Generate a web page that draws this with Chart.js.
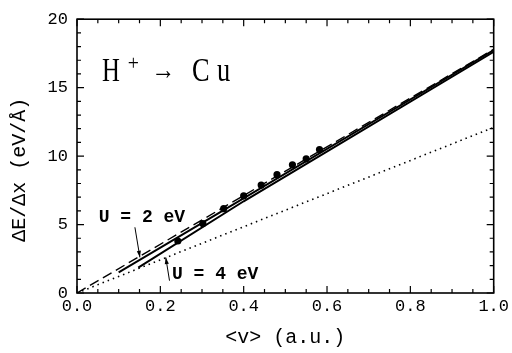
<!DOCTYPE html>
<html>
<head>
<meta charset="utf-8">
<script src="https://cdn.jsdelivr.net/npm/chart.js@4.4.0/dist/chart.umd.min.js"></script>
<style>
html, body { margin: 0; padding: 0; background: #fff; }
canvas { display: block; }
</style>
</head>
<body>
<canvas id="c" width="512" height="353"></canvas>
<script>
// measured stopping powers (dots)
const expX = [0.242, 0.302, 0.352, 0.400, 0.442, 0.480, 0.517, 0.550, 0.582];
const expY = [3.80, 5.07, 6.16, 7.09, 7.88, 8.64, 9.36, 9.80, 10.48];

// theory curves
const dashX = [0, 1.0];
const dashY = [0, 17.8];
const u2X = [0.100, 1.0];
const u2Y = [1.50, 17.75];
const u4X = [0.147, 0.40, 1.0];
const u4Y = [1.85, 6.70, 17.62];
const dotX = [0, 1.0];
const dotY = [0, 12.1];

const xTicks = [0, 0.2, 0.4, 0.6, 0.8, 1.0];
const yTicks = [0, 5, 10, 15, 20];

const MONO = '"Liberation Mono", monospace';
const SERIF = '"Liberation Serif", serif';

const pts = (xs, ys) => xs.map((x, i) => ({ x: x, y: ys[i] }));

// box + inward ticks on all four sides
const frame = {
    id: 'frame',
    afterDatasetsDraw(chart) {
        const { ctx, chartArea: a, scales: { x, y } } = chart;
        ctx.save();
        ctx.strokeStyle = '#000';
        ctx.lineWidth = 1.2;
        ctx.beginPath();
        for (let i = 0; i <= 20; i++) {
            const px = x.getPixelForValue(i * 0.05);
            const len = i % 4 === 0 ? 7 : 4;
            ctx.moveTo(px, a.bottom); ctx.lineTo(px, a.bottom - len);
            ctx.moveTo(px, a.top); ctx.lineTo(px, a.top + len);
        }
        for (let i = 0; i <= 20; i++) {
            const py = y.getPixelForValue(i);
            const len = i % 5 === 0 ? 7 : 4;
            ctx.moveTo(a.left, py); ctx.lineTo(a.left + len, py);
            ctx.moveTo(a.right, py); ctx.lineTo(a.right - len, py);
        }
        ctx.stroke();
        ctx.lineWidth = 1.6;
        ctx.strokeRect(a.left, a.top, a.right - a.left, a.bottom - a.top);
        ctx.restore();
    }
};

function arrow(ctx, x0, y0, x1, y1) {
    const ang = Math.atan2(y1 - y0, x1 - x0);
    ctx.beginPath();
    ctx.moveTo(x0, y0);
    ctx.lineTo(x1, y1);
    ctx.stroke();
    ctx.beginPath();
    ctx.moveTo(x1, y1);
    ctx.lineTo(x1 - 7 * Math.cos(ang - 0.3), y1 - 7 * Math.sin(ang - 0.3));
    ctx.lineTo(x1 - 7 * Math.cos(ang + 0.3), y1 - 7 * Math.sin(ang + 0.3));
    ctx.closePath();
    ctx.fill();
}

// text labels and arrows, placed in data units
const notes = {
    id: 'notes',
    afterDraw(chart) {
        const { ctx, scales: { x, y } } = chart;
        const X = v => x.getPixelForValue(v);
        const Y = v => y.getPixelForValue(v);
        ctx.save();
        ctx.fillStyle = '#000';
        ctx.strokeStyle = '#000';
        ctx.textBaseline = 'alphabetic';

        // H+ -> Cu
        const glyph = (t, vx, vy, size, sx) => {
            ctx.save();
            ctx.translate(X(vx), Y(vy));
            ctx.scale(sx, 1);
            ctx.font = size + 'px ' + SERIF;
            ctx.fillText(t, 0, 0);
            ctx.restore();
        };
        glyph('H', 0.060, 15.5, 33, 0.75);
        glyph('+', 0.122, 16.3, 22, 0.9);
        glyph('\u2192', 0.178, 15.6, 28, 0.85);
        glyph('C', 0.276, 15.5, 33, 0.8);
        glyph('u', 0.336, 15.5, 33, 0.8);

        ctx.font = 'bold 18px ' + MONO;
        ctx.fillText('U = 2 eV', X(0.052), Y(5.2));
        ctx.fillText('U = 4 eV', X(0.228), Y(1.05));

        ctx.lineWidth = 1;
        arrow(ctx, X(0.139), Y(4.8), X(0.151), Y(2.6));
        arrow(ctx, X(0.222), Y(0.9), X(0.213), Y(2.6));

        // y axis title
        ctx.save();
        ctx.translate(20, Y(9.0));
        ctx.rotate(-Math.PI / 2);
        ctx.font = '20px ' + MONO;
        ctx.textAlign = 'center';
        ctx.textBaseline = 'middle';
        ctx.fillText('\u0394E/\u0394x (eV/\u00c5)', 0, 0);
        ctx.restore();
        ctx.restore();
    }
};

new Chart(document.getElementById('c'), {
    type: 'scatter',
    data: {
        datasets: [
            { data: pts(dotX, dotY), showLine: true, borderColor: '#000', borderWidth: 1.6, borderDash: [1.5, 4], pointRadius: 0 },
            { data: pts(dashX, dashY), showLine: true, borderColor: '#000', borderWidth: 1.4, borderDash: [10, 5], pointRadius: 0 },
            { data: pts(u2X, u2Y), showLine: true, borderColor: '#000', borderWidth: 2, pointRadius: 0 },
            { data: pts(u4X, u4Y), showLine: true, borderColor: '#000', borderWidth: 2, pointRadius: 0 },
            { data: pts(expX, expY), showLine: false, pointRadius: 3.6, backgroundColor: '#000', borderColor: '#000', borderWidth: 0 }
        ]
    },
    options: {
        responsive: false,
        animation: false,
        events: [],
        layout: { padding: { top: 12, right: 17, left: 0, bottom: 0 } },
        plugins: { legend: { display: false }, tooltip: { enabled: false } },
        scales: {
            x: {
                type: 'linear', min: 0, max: 1,
                afterFit: s => { s.height = 60; },
                afterBuildTicks: s => { s.ticks = xTicks.map(v => ({ value: v })); },
                grid: { display: false, drawTicks: false },
                border: { display: false },
                ticks: { padding: 3, color: '#000', font: { family: MONO, size: 17 }, maxRotation: 0, autoSkip: false, callback: v => Number(v).toFixed(1) },
                title: { display: true, text: '<v> (a.u.)', color: '#000', font: { family: MONO, size: 20 }, padding: { top: 0, bottom: 3 } }
            },
            y: {
                type: 'linear', min: 0, max: 20,
                afterFit: s => { s.width = 77; },
                afterBuildTicks: s => { s.ticks = yTicks.map(v => ({ value: v })); },
                grid: { display: false, drawTicks: false },
                border: { display: false },
                ticks: { padding: 9, color: '#000', font: { family: MONO, size: 17 }, autoSkip: false }
            }
        }
    },
    plugins: [frame, notes]
});
</script>
</body>
</html>
